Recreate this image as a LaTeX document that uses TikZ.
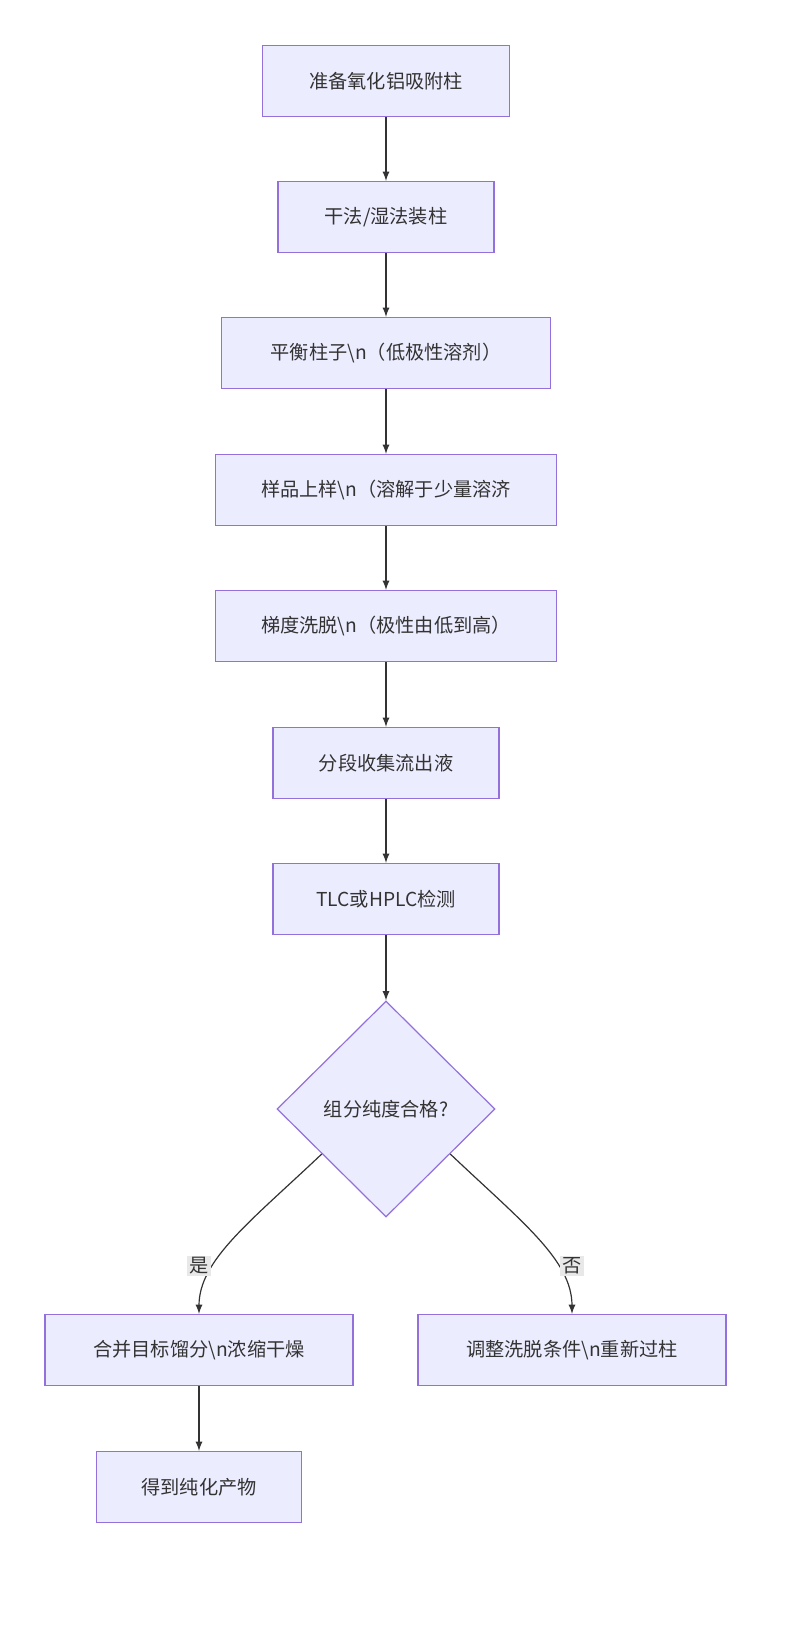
\documentclass[tikz,border=0pt]{standalone}
\usepackage{fontspec}
\setmainfont{Noto Sans CJK SC}
\usetikzlibrary{shapes.geometric}
\definecolor{boxfill}{HTML}{ECECFF}
\definecolor{boxline}{HTML}{9370DB}
\definecolor{arrow}{HTML}{333333}
\definecolor{lblbg}{HTML}{E8E8E8}
\begin{document}
\begin{tikzpicture}
    [
    x=0.5pt, y=-0.5pt,
    box/.style={rectangle,draw=boxline,fill=boxfill,line width=0.6pt,minimum height=35.5pt,font=\fontsize{9.6}{11}\selectfont,text=arrow},
    check/.style={diamond,draw=boxline,fill=boxfill,line width=0.6pt,minimum width=109pt,minimum height=108pt,inner sep=0pt,font=\fontsize{9.6}{11}\selectfont,text=arrow},
    lbl/.style={fill=lblbg,inner sep=1pt,font=\fontsize{9.6}{11}\selectfont,text=arrow},
    flow/.style={-latex,draw=arrow,line width=0.6pt}
    ]
    \useasboundingbox (0,0) rectangle (800,1625);
    \node (prep) at (386,81) [box, minimum width=123.5pt] {准备氧化铝吸附柱};
    \node (pack) at (386,217) [box, minimum width=108pt] {干法/湿法装柱};
    \node (equil) at (386,353) [box, minimum width=164.5pt] {平衡柱子\textbackslash n（低极性溶剂）};
    \node (load) at (386,490) [box, minimum width=170.5pt] {样品上样\textbackslash n（溶解于少量溶济};
    \node (elute) at (386,626) [box, minimum width=170.5pt] {梯度洗脱\textbackslash n（极性由低到高）};
    \node (collect) at (386,763) [box, minimum width=113pt] {分段收集流出液};
    \node (detect) at (386,899) [box, minimum width=113pt] {TLC或HPLC检测};
    \node (pure) at (386,1109) [check] {组分纯度合格?};
    \node (merge) at (199,1350) [box, minimum width=154pt] {合并目标馏分\textbackslash n浓缩干燥};
    \node (redo) at (572,1350) [box, minimum width=154pt] {调整洗脱条件\textbackslash n重新过柱};
    \node (prod) at (199,1487) [box, minimum width=102.5pt] {得到纯化产物};
    \draw [flow] (prep) to (pack);
    \draw [flow] (pack) to (equil);
    \draw [flow] (equil) to (load);
    \draw [flow] (load) to (elute);
    \draw [flow] (elute) to (collect);
    \draw [flow] (collect) to (detect);
    \draw [flow] (detect) to (pure);
    \draw [flow] (pure.-145) .. controls (250,1222) and (199,1260) .. (merge.north);
    \draw [flow] (pure.-35) .. controls (522,1222) and (572,1260) .. (redo.north);
    \draw [flow] (merge) to (prod);
    \node at (199,1266) [lbl] {是};
    \node at (572,1266) [lbl] {否};
  \end{tikzpicture}
\end{document}
